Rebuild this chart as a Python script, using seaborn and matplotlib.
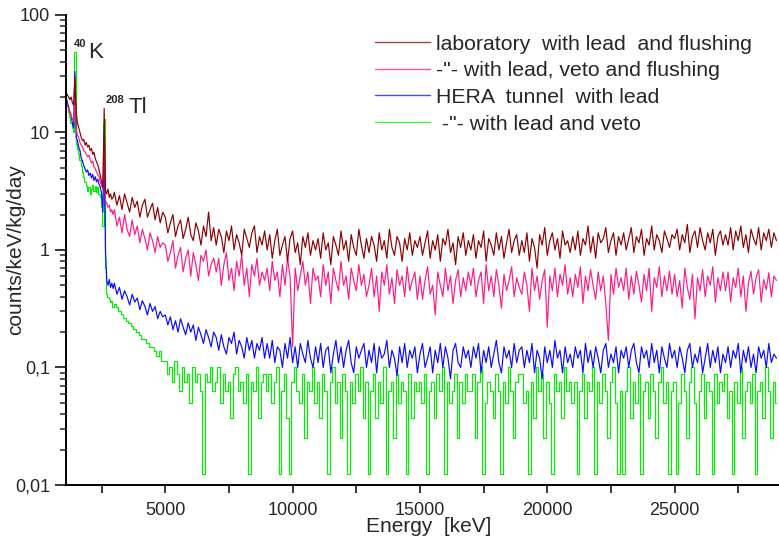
import numpy as np
import pandas as pd
import matplotlib
matplotlib.use("Agg")
import matplotlib.pyplot as plt
import matplotlib.ticker as mticker
import seaborn as sns

# ---- data (counts/keV/kg/day) ----
# low energy part: 1100 .. 2950 keV, 50 keV steps
energy_low = np.arange(1100, 3000, 50)
# high energy part: 3000 .. 29000 keV, 100 keV steps
energy_high = np.arange(3000, 29001, 100)

lab_low = [22, 21, 20, 19, 20, 18, 17, 30, 15, 12,
           11, 10, 9, 8.5, 8.7, 7.8, 8.2, 7.5, 7.8, 7,
           7.3, 6.5, 6.8, 6, 5.6, 5.3, 4.8, 4.3, 3.8, 3.4,
           16, 3.2, 3.0, 3.3, 2.8, 3.0, 2.7, 2.8]
lab_high = [3.1, 2.4, 2.9, 2.2, 3.0, 2.5, 2.1, 2.8, 2.3, 2.6,
            1.9, 2.4, 2.7, 1.9, 2.2, 2.5, 1.8, 2.3, 1.7, 2.1,
            1.9, 1.4, 1.7, 2.0, 1.3, 1.6, 1.8, 1.25, 1.5, 1.9,
            1.35, 1.2, 1.7, 1.45, 1.1, 1.6, 1.3, 2.1, 1.2, 1.55,
            1.1, 1.5, 1.3, 0.95, 1.45, 1.2, 1.6, 1.0, 1.35, 1.15,
            0.9, 1.5, 1.25, 1.05, 1.4, 1.6, 0.95, 1.3, 1.1, 1.45,
            1.0, 1.35, 0.85, 1.2, 1.5, 0.9, 1.1, 1.3, 0.8, 1.25,
            1.45, 0.95, 1.15, 0.75, 1.3, 1.05, 1.4, 0.9, 1.2, 1.0,
            1.25, 0.85, 1.4, 1.0, 1.15, 0.75, 1.3, 1.1, 0.9, 1.45,
            1.0, 1.2, 0.8, 1.35, 1.05, 0.9, 1.5, 1.1, 0.85, 1.25,
            0.95, 1.3, 1.1, 0.8, 1.4, 1.0, 1.2, 0.85, 1.5, 1.05,
            0.9, 1.3, 1.15, 0.8, 1.25, 1.0, 1.4, 0.9, 1.2, 1.05,
            1.3, 0.9, 1.15, 1.45, 0.85, 1.2, 1.0, 1.35, 0.8, 1.25,
            1.1, 1.5, 0.95, 1.15, 0.75, 1.3, 1.05, 1.4, 0.9, 1.2,
            1.0, 1.35, 0.85, 1.2, 1.05, 1.45, 0.8, 1.25, 1.1, 0.9,
            1.4, 1.0, 1.3, 0.85, 1.15, 1.5, 0.95, 1.2, 1.35, 0.9,
            1.2, 0.95, 1.4, 0.8, 1.25, 1.05, 0.7, 1.35, 1.1, 1.55,
            0.9, 1.2, 1.4, 1.0, 1.25, 0.85, 1.45, 1.1, 1.2, 0.95,
            1.3, 1.0, 1.45, 0.9, 1.25, 1.1, 1.6, 0.95, 1.3, 0.85,
            1.4, 1.15, 1.25, 1.55, 0.95, 1.2, 1.4, 0.9, 1.3, 1.1,
            1.4, 1.0, 1.25, 1.55, 0.95, 1.3, 1.15, 1.5, 0.9, 1.25,
            1.1, 1.6, 1.0, 1.35, 1.2, 0.95, 1.45, 1.25, 1.05, 1.35,
            1.25, 1.5, 1.0, 1.35, 1.15, 1.65, 0.95, 1.3, 1.45, 1.05,
            1.55, 1.2, 1.0, 1.4, 1.15, 1.5, 0.9, 1.3, 1.45, 1.1,
            1.35, 1.1, 1.55, 1.0, 1.45, 1.2, 1.6, 1.05, 1.35, 0.95,
            1.5, 1.25, 1.1, 1.55, 1.0, 1.4, 1.2, 1.5, 1.05, 1.4,
            1.2]

labveto_low = [19, 17, 16, 15, 14, 13, 12.5, 20, 10.5, 9.5,
               9, 8.2, 7.8, 7.5, 7, 6.8, 6.5, 6.2, 6.4, 5.9,
               5.5, 5.7, 5.1, 4.9, 4.6, 4.4, 4.2, 3.8, 3.5, 3.3,
               12, 2.6, 2.5, 2.3, 2.4, 2.1, 2.2, 2.0]
labveto_high = [2.2, 1.6, 1.9, 1.4, 2.0, 1.5, 1.3, 1.8, 1.35, 1.6,
                1.15, 1.5, 1.25, 1.0, 1.4, 1.2, 0.95, 1.3, 1.05, 1.15,
                1.1, 0.8, 0.95, 1.2, 0.7, 0.9, 1.05, 0.65, 0.85, 1.0,
                0.6, 0.95, 0.75, 0.55, 0.9, 0.8, 1.0, 0.6, 0.75, 0.85,
                0.65, 0.85, 0.5, 0.75, 0.95, 0.55, 0.7, 0.45, 0.8, 0.6,
                0.9, 0.5, 0.7, 0.4, 0.75, 0.6, 0.85, 0.5, 0.65, 0.55,
                0.7, 0.45, 0.8, 0.55, 0.65, 0.4, 0.75, 0.5, 0.85, 0.6,
                0.15, 0.7, 0.45, 0.6, 0.8, 0.5, 0.65, 0.35, 0.7, 0.55,
                0.6, 0.4, 0.75, 0.5, 0.65, 0.35, 0.7, 0.55, 0.45, 0.8,
                0.5, 0.6, 0.38, 0.7, 0.55, 0.45, 0.75, 0.5, 0.62, 0.4,
                0.5, 0.7, 0.4, 0.6, 0.3, 0.65, 0.5, 0.75, 0.42, 0.58,
                0.35, 0.68, 0.5, 0.6, 0.4, 0.72, 0.45, 0.55, 0.65, 0.38,
                0.6, 0.38, 0.55, 0.72, 0.42, 0.5, 0.28, 0.65, 0.5, 0.4,
                0.7, 0.45, 0.6, 0.35, 0.55, 0.68, 0.4, 0.58, 0.45, 0.65,
                0.5, 0.7, 0.4, 0.55, 0.65, 0.35, 0.75, 0.45, 0.6, 0.4,
                0.68, 0.5, 0.32, 0.62, 0.45, 0.55, 0.72, 0.4, 0.58, 0.48,
                0.42, 0.65, 0.5, 0.3, 0.7, 0.45, 0.6, 0.38, 0.55, 0.68,
                0.22, 0.6, 0.45, 0.7, 0.4, 0.62, 0.5, 0.75, 0.42, 0.58,
                0.4, 0.62, 0.48, 0.72, 0.35, 0.6, 0.45, 0.68, 0.5, 0.38,
                0.65, 0.45, 0.6, 0.35, 0.17, 0.62, 0.42, 0.7, 0.48, 0.58,
                0.45, 0.7, 0.38, 0.6, 0.42, 0.66, 0.5, 0.36, 0.62, 0.45,
                0.7, 0.3, 0.58, 0.48, 0.72, 0.4, 0.6, 0.45, 0.66, 0.42,
                0.62, 0.4, 0.55, 0.32, 0.7, 0.48, 0.38, 0.62, 0.26, 0.58,
                0.45, 0.68, 0.4, 0.6, 0.5, 0.72, 0.36, 0.58, 0.45, 0.65,
                0.45, 0.65, 0.36, 0.58, 0.48, 0.7, 0.4, 0.6, 0.3, 0.52,
                0.66, 0.42, 0.58, 0.68, 0.36, 0.56, 0.46, 0.64, 0.4, 0.6,
                0.55]

hera_low = [20, 18, 16.5, 15, 14, 12, 11, 33, 9, 8.5,
            7.5, 7, 6, 5.7, 5.2, 4.9, 4.6, 4.8, 4.3, 4.5,
            4.1, 4.4, 3.9, 4.2, 3.8, 4.0, 3.6, 3.4, 3.0, 2.1,
            9, 1.0, 0.55, 0.5, 0.56, 0.48, 0.52, 0.47]
hera_high = [0.52, 0.42, 0.48, 0.38, 0.45, 0.4, 0.34, 0.42, 0.36, 0.39,
             0.31, 0.37, 0.33, 0.28, 0.35, 0.3, 0.33, 0.26, 0.3, 0.27,
             0.28, 0.23, 0.27, 0.21, 0.25, 0.2, 0.26, 0.22, 0.19, 0.24,
             0.2, 0.23, 0.17, 0.22, 0.19, 0.16, 0.21, 0.18, 0.15, 0.2,
             0.18, 0.14, 0.19, 0.15, 0.13, 0.18, 0.16, 0.2, 0.13, 0.17,
             0.15, 0.12, 0.18, 0.14, 0.17, 0.12, 0.16, 0.14, 0.18, 0.12,
             0.16, 0.12, 0.17, 0.11, 0.15, 0.14, 0.1, 0.16, 0.12, 0.18,
             0.11, 0.15, 0.1, 0.16, 0.13, 0.11, 0.17, 0.12, 0.1, 0.15,
             0.11, 0.16, 0.1, 0.14, 0.15, 0.09, 0.13, 0.17, 0.11, 0.15,
             0.1, 0.14, 0.17, 0.11, 0.09, 0.15, 0.12, 0.14, 0.16, 0.1,
             0.14, 0.11, 0.16, 0.09, 0.15, 0.12, 0.13, 0.17, 0.1, 0.14,
             0.12, 0.085, 0.15, 0.11, 0.16, 0.1, 0.14, 0.12, 0.15, 0.09,
             0.13, 0.16, 0.1, 0.12, 0.15, 0.09, 0.14, 0.11, 0.16, 0.1,
             0.15, 0.12, 0.08, 0.14, 0.16, 0.11, 0.1, 0.15, 0.12, 0.14,
             0.1, 0.15, 0.12, 0.16, 0.09, 0.14, 0.11, 0.15, 0.1, 0.13,
             0.17, 0.11, 0.09, 0.15, 0.12, 0.14, 0.1, 0.16, 0.11, 0.14,
             0.15, 0.1, 0.14, 0.11, 0.16, 0.09, 0.14, 0.12, 0.08, 0.15,
             0.11, 0.14, 0.1, 0.17, 0.12, 0.14, 0.09, 0.15, 0.11, 0.13,
             0.1, 0.15, 0.12, 0.14, 0.09, 0.16, 0.11, 0.14, 0.1, 0.15,
             0.12, 0.09, 0.14, 0.16, 0.1, 0.13, 0.11, 0.15, 0.09, 0.14,
             0.12, 0.15, 0.1, 0.14, 0.16, 0.11, 0.09, 0.15, 0.12, 0.14,
             0.1, 0.16, 0.11, 0.14, 0.09, 0.15, 0.12, 0.1, 0.16, 0.12,
             0.14, 0.1, 0.15, 0.12, 0.09, 0.14, 0.16, 0.1, 0.13, 0.11,
             0.15, 0.09, 0.12, 0.16, 0.1, 0.14, 0.11, 0.15, 0.09, 0.13,
             0.11, 0.15, 0.1, 0.14, 0.12, 0.16, 0.09, 0.14, 0.11, 0.15,
             0.1, 0.13, 0.09, 0.15, 0.12, 0.14, 0.1, 0.16, 0.11, 0.13,
             0.12]

heraveto_low = [19, 17, 15, 13.5, 12, 11, 10, 48, 8, 7.2,
                6.5, 5.8, 5.2, 4.6, 4.2, 3.8, 3.5, 3.2, 3.4, 3.0,
                3.3, 3.6, 3.2, 3.5, 3.1, 3.4, 3.0, 2.8, 2.3, 1.6,
                13, 0.7, 0.42, 0.4, 0.38, 0.36, 0.37, 0.33]
# high part is only a few counts per bin -> quantised, 1 count = 0.0125
count_unit = 0.0125
heraveto_high_counts = [28, 26, 24, 23, 21, 20, 19, 18, 17, 16, 15, 14, 14, 13, 12, 12, 11, 10, 11, 9,
                        9, 7, 8, 6, 9, 7, 5, 8, 6, 7, 4, 8, 6, 7, 5, 1, 7, 6, 8, 5,
                        6, 8, 4, 7, 5, 6, 3, 7, 8, 5, 6, 4, 7, 1, 6, 5, 8, 3, 6, 7,
                        5, 7, 4, 6, 8, 1, 5, 7, 3, 1, 6, 8, 5, 4, 7, 2, 6, 5, 8, 4,
                        6, 3, 7, 5, 1, 6, 8, 4, 6, 2, 7, 5, 1, 6, 4, 7, 5, 8, 3, 6,
                        1, 5, 7, 3, 6, 4, 8, 1, 5, 6, 2, 7, 4, 6, 5, 1, 7, 3, 6, 5,
                        6, 4, 7, 1, 5, 6, 3, 7, 5, 8, 1, 6, 4, 5, 7, 2, 6, 4, 7, 5,
                        5, 7, 2, 6, 8, 1, 4, 6, 5, 3, 7, 5, 1, 6, 4, 8, 5, 2, 6, 7,
                        7, 4, 5, 1, 6, 3, 8, 5, 7, 2, 6, 4, 1, 7, 5, 6, 3, 8, 5, 6,
                        4, 6, 1, 5, 7, 3, 6, 5, 8, 1, 6, 4, 7, 5, 2, 6, 8, 4, 1, 5,
                        1, 5, 8, 3, 6, 4, 7, 1, 5, 6, 3, 7, 5, 2, 6, 8, 4, 6, 1, 5,
                        6, 1, 4, 7, 5, 2, 6, 8, 4, 1, 5, 7, 3, 6, 5, 1, 7, 4, 6, 5,
                        7, 3, 5, 1, 6, 4, 8, 2, 5, 6, 4, 7, 1, 5, 6, 3, 8, 5, 2, 6,
                        4]

labels = ["laboratory  with lead  and flushing",
          "-\"- with lead, veto and flushing",
          "HERA  tunnel  with lead",
          " -\"- with lead and veto"]
colors = ["#8b0000", "#ff1a85", "#0a0aff", "#00f000"]
styles = ["default", "default", "default", "steps-mid"]
ytick_vals = [0.01, 0.1, 1, 10, 100]
ytick_labels = ["0,01", "0,1", "1", "10", "100"]
xtick_vals = [5000, 10000, 15000, 20000, 25000]

# ---- build data frames ----
energy = np.concatenate([energy_low, energy_high])
series = [
    np.concatenate([lab_low, lab_high]),
    np.concatenate([labveto_low, labveto_high]),
    np.concatenate([hera_low, hera_high]),
    np.concatenate([heraveto_low, np.array(heraveto_high_counts) * count_unit]),
]

sns.set_style("ticks")
plt.rcParams['font.family'] = ['Liberation Sans', 'DejaVu Sans']

fig = plt.figure(figsize=(7.79, 5.41), dpi=100)
ax = fig.add_axes([0.0847, 0.1035, 0.9153, 0.869])

handles = [None] * 4
for i in [3, 2, 1, 0]:
    df = pd.DataFrame({'energy': energy, 'rate': series[i]})
    sns.lineplot(data=df, x='energy', y='rate', color=colors[i], lw=0.85,
                 estimator=None, sort=False, drawstyle=styles[i], ax=ax)
    handles[i] = ax.lines[-1]

ax.set_yscale('log')
ax.set_ylim(0.01, 100)
ax.set_xlim(1100, 29100)
ax.yaxis.set_major_locator(mticker.FixedLocator(ytick_vals))
ax.yaxis.set_major_formatter(mticker.FixedFormatter(ytick_labels))
ax.yaxis.set_minor_locator(mticker.LogLocator(base=10, subs=np.arange(2, 10)))
ax.yaxis.set_minor_formatter(mticker.NullFormatter())
ax.xaxis.set_major_locator(mticker.FixedLocator(xtick_vals))
ax.xaxis.set_minor_locator(mticker.MultipleLocator(2500))

ax.tick_params(axis='y', which='major', length=8, width=1.3, labelsize=13, direction='out')
ax.tick_params(axis='y', which='minor', length=4, width=1.1, direction='out')
ax.tick_params(axis='x', which='both', length=6, width=1.3, labelsize=13, pad=6, direction='out')

for s in ['top', 'right']:
    ax.spines[s].set_visible(False)
for s in ['left', 'bottom']:
    ax.spines[s].set_linewidth(1.4)
    ax.spines[s].set_color('black')

ax.set_xlabel("Energy  [keV]", fontsize=15)
ax.set_ylabel("counts/keV/kg/day", fontsize=15)
ax.xaxis.set_label_coords(0.508, -0.068)
ax.yaxis.set_label_coords(-0.057, 0.5)

# peak labels
ax.text(0.011, 0.939, "40", transform=ax.transAxes, fontsize=8, fontweight='bold',
        va='center', ha='left')
ax.text(0.031, 0.908, "K", transform=ax.transAxes, fontsize=16, va='baseline', ha='left')
ax.text(0.055, 0.82, "208", transform=ax.transAxes, fontsize=8, fontweight='bold',
        va='center', ha='left')
ax.text(0.088, 0.792, "Tl", transform=ax.transAxes, fontsize=16, va='baseline', ha='left')

leg = ax.legend(handles=handles, labels=labels, loc='upper left',
                bbox_to_anchor=(0.433, 0.958), frameon=False, fontsize=15.3,
                handlelength=2.6, handletextpad=0.3, labelspacing=0.36,
                borderpad=0, borderaxespad=0)
for h in leg.get_lines():
    h.set_linewidth(1.0)
    h.set_alpha(0.75)
    h.set_drawstyle('default')

fig.savefig("out.png", dpi=100)
